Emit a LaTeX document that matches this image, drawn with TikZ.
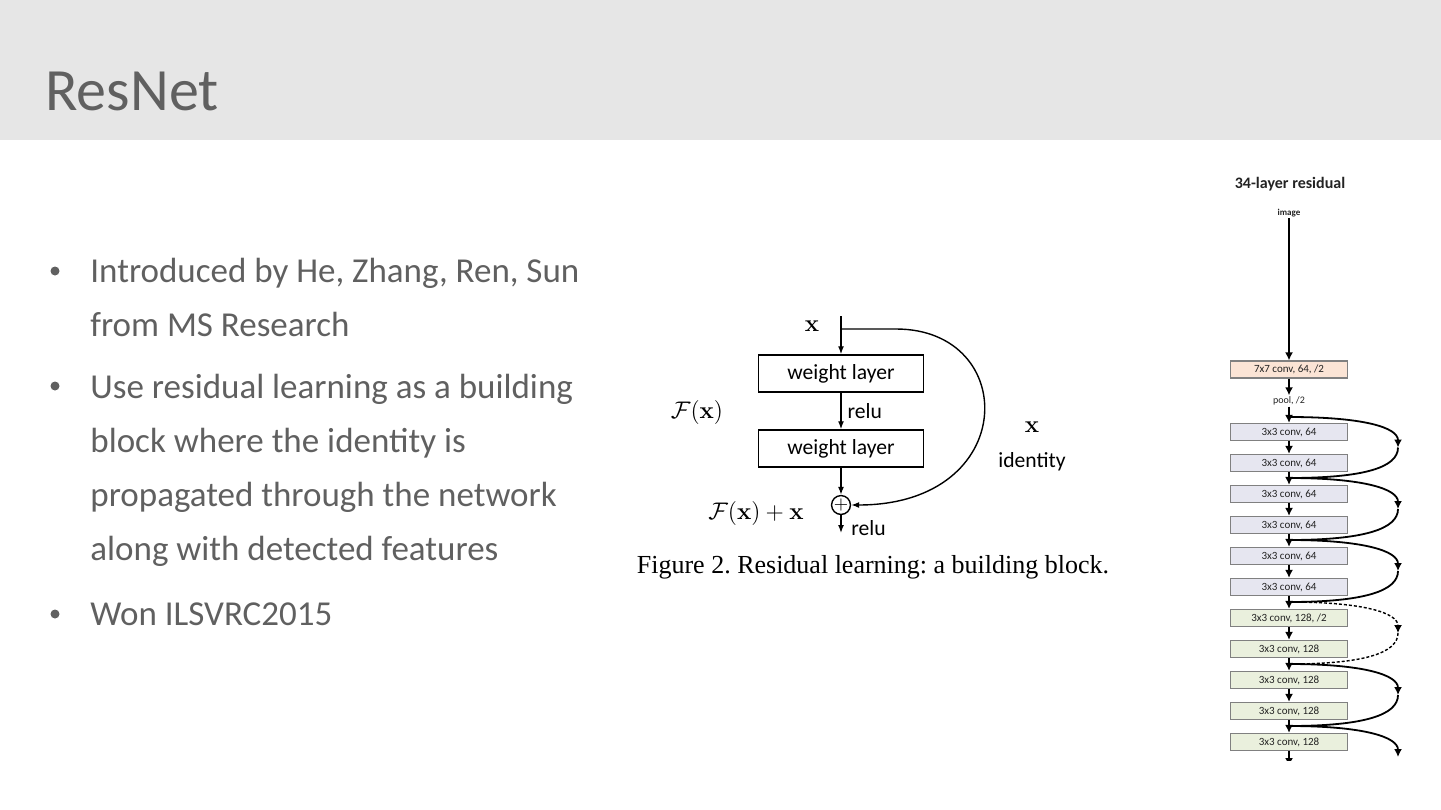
\documentclass[tikz,border=0pt]{standalone}
\usepackage[no-math]{fontspec}
\setmainfont{Carlito}
\newfontfamily\capfont{Liberation Serif}
\usepackage{amsmath, amssymb}
\usetikzlibrary{arrows.meta, positioning}
\definecolor{bandgray}{RGB}{230, 230, 230}
\definecolor{slidetext}{RGB}{96, 96, 96}
\definecolor{boxline}{RGB}{128, 128, 128}
\definecolor{peachfill}{RGB}{251, 228, 213}
\definecolor{lavfill}{RGB}{230, 230, 240}
\definecolor{greenfill}{RGB}{234, 240, 221}
\definecolor{inkdark}{RGB}{35, 35, 35}
\frenchspacing

\begin{document}
\begin{tikzpicture}[x=0.5pt, y=-0.5pt,
		bullet/.style={anchor=base west, align=left, inner sep=0pt,
			text=slidetext, font=\fontsize{17.5}{27}\selectfont},
		dot/.style={circle, fill=slidetext, inner sep=0pt, minimum size=4.5pt},
		wlbox/.style={draw, line width=0.75pt, minimum width=82.5pt,
			minimum height=18.5pt, inner sep=0pt, font=\fontsize{10.8}{12}\selectfont},
		flabel/.style={inner sep=0pt, font=\fontsize{10.8}{12}\selectfont},
		mlabel/.style={inner sep=0pt, font=\fontsize{13}{15}\selectfont},
		farr/.style={-{Latex[length=4pt, width=3pt]}, line width=0.7pt},
		convbox/.style={draw=boxline, line width=0.6pt, minimum width=58.5pt,
			minimum height=8.5pt, inner sep=0pt, text=inkdark,
			font=\fontsize{5.5}{6}\selectfont},
		tiny/.style={inner sep=0.5pt, text=inkdark, font=\fontsize{5}{6}\selectfont},
		carr/.style={-{Latex[length=4pt, width=4pt]}, line width=0.9pt},
		skipline/.style={line width=0.9pt},
		]
	\useasboundingbox (0,0) rectangle (1441,809);
	% header band
	\fill[bandgray] (0,0) rectangle (1441,140);
	\node[anchor=base west, inner sep=0pt, text=slidetext,
		font=\fontsize{30}{34}\selectfont] (title) at (45,110) {ResNet};
	
	% bullets (base = last line)
	\node[dot] (d1) at (55,271) {};
	\node[bullet] (b1) at (90,336)
	{Introduced by He, Zhang, Ren, Sun\\from MS Research};
	\node[dot] (d2) at (55,386) {};
	\node[bullet] (b2) at (90,560)
	{Use residual learning as a building\\block where the identity is\\propagated through the network\\along with detected features};
	\node[dot] (d3) at (55,614) {};
	\node[bullet] (b3) at (90,625) {Won ILSVRC2015};
	
	% residual building block
	\coordinate (xin) at (841,316);
	\coordinate (branch) at (841,329);
	\node[wlbox] (wl1) at (841,373.5) {weight layer};
	\node[wlbox] (wl2) at (841,448.5) {weight layer};
	\node[circle, draw, line width=0.7pt, minimum size=9pt, inner sep=0pt,
		font=\fontsize{9}{9}\selectfont] (add) at (841,505) {$+$};
	\coordinate (fout) at (841,533);
	\draw[line width=0.7pt] (xin) -- (branch);
	\draw[farr] (branch) -- (wl1);
	\draw[farr] (wl1) -- (wl2) node[midway, right=3pt, flabel]{relu};
	\draw[farr] (wl2) -- (add);
	\draw[farr] (add) -- (fout);
	\node[flabel, anchor=west] (relu2) at (851,528) {relu};
	\draw[farr] (branch) -- (896,329) .. controls (1020,329) and (1020,505) .. (add.east);
	\node[mlabel] (xtop) at (812,326) {$\mathbf{x}$};
	\node[mlabel] (fx) at (697,412) {$\mathcal{F}(\mathbf{x})$};
	\node[mlabel, anchor=east] (fxx) at (804,513) {$\mathcal{F}(\mathbf{x}) + \mathbf{x}$};
	\node[mlabel] (xid) at (1032,427) {$\mathbf{x}$};
	\node[flabel] (ident) at (1032,462) {identity};
	\node[inner sep=0pt, font=\capfont\fontsize{13}{15}\selectfont] (caption)
	at (873,567) {Figure 2. Residual learning: a building block.};
	
	% 34-layer residual column
	\node[inner sep=0pt, text=inkdark, font=\bfseries\fontsize{8}{10}\selectfont]
	(coltitle) at (1290,184) {34-layer residual};
	\node[tiny, font=\bfseries\fontsize{4.5}{5}\selectfont] (image) at (1289,213) {image};
	\node[convbox, fill=peachfill] (c7) at (1289,369.5) {7x7 conv, 64, /2};
	\node[tiny] (pool) at (1289,401) {pool, /2};
	\node[convbox, fill=lavfill] (ca) at (1289,432) {3x3 conv, 64};
	\node[convbox, fill=lavfill] (cb) at (1289,463) {3x3 conv, 64};
	\node[convbox, fill=lavfill] (cc) at (1289,494) {3x3 conv, 64};
	\node[convbox, fill=lavfill] (cd) at (1289,525) {3x3 conv, 64};
	\node[convbox, fill=lavfill] (ce) at (1289,556) {3x3 conv, 64};
	\node[convbox, fill=lavfill] (cf) at (1289,587) {3x3 conv, 64};
	\node[convbox, fill=greenfill] (cg) at (1289,618) {3x3 conv, 128, /2};
	\node[convbox, fill=greenfill] (ch) at (1289,649) {3x3 conv, 128};
	\node[convbox, fill=greenfill] (ci) at (1289,680) {3x3 conv, 128};
	\node[convbox, fill=greenfill] (cj) at (1289,711) {3x3 conv, 128};
	\node[convbox, fill=greenfill] (ck) at (1289,742) {3x3 conv, 128};
	\coordinate (kout) at (1289,766);
	
	\draw[carr] (image) -- (c7);
	\draw[carr] (c7) -- (pool);
	\draw[carr] (pool) -- (ca);
	\draw[carr] (ca) -- (cb);
	\draw[carr] (cb) -- (cc);
	\draw[carr] (cc) -- (cd);
	\draw[carr] (cd) -- (ce);
	\draw[carr] (ce) -- (cf);
	\draw[carr] (cf) -- (cg);
	\draw[carr] (cg) -- (ch);
	\draw[carr] (ch) -- (ci);
	\draw[carr] (ci) -- (cj);
	\draw[carr] (cj) -- (ck);
	
	% shortcuts
	\coordinate (j0) at (1289,417);
	\coordinate (j1) at (1289,478);
	\coordinate (j2) at (1289,540);
	\coordinate (j3) at (1289,602);
	\coordinate (j4) at (1289,664);
	\coordinate (j5) at (1289,726);
	\coordinate (r0) at (1398,447.5);
	\coordinate (r1) at (1398,509);
	\coordinate (r2) at (1398,571);
	\coordinate (r3) at (1398,633);
	\coordinate (r4) at (1398,695);
	\coordinate (r5) at (1398,757);
	\draw[carr] (j0) .. controls +(75,0) and +(0,-20) .. (r0);
	\draw[skipline] (r0) .. controls +(0,20) and +(75,0) .. (j1);
	\draw[carr] (j1) .. controls +(75,0) and +(0,-20) .. (r1);
	\draw[skipline] (r1) .. controls +(0,20) and +(75,0) .. (j2);
	\draw[carr] (j2) .. controls +(75,0) and +(0,-20) .. (r2);
	\draw[skipline] (r2) .. controls +(0,20) and +(75,0) .. (j3);
	\draw[carr, dash pattern=on 1.5pt off 1pt, line width=0.7pt] (j3) .. controls +(75,0) and +(0,-20) .. (r3);
	\draw[skipline, dash pattern=on 1.5pt off 1pt, line width=0.7pt] (r3) .. controls +(0,20) and +(75,0) .. (j4);
	\draw[carr] (j4) .. controls +(75,0) and +(0,-20) .. (r4);
	\draw[skipline] (r4) .. controls +(0,20) and +(75,0) .. (j5);
	\draw[carr] (j5) .. controls +(75,0) and +(0,-20) .. (r5);
	\begin{scope}
		\clip (1200,150) rectangle (1441,760);
		\draw[carr] (ck) -- (kout);
	\end{scope}
\end{tikzpicture}
\end{document}
